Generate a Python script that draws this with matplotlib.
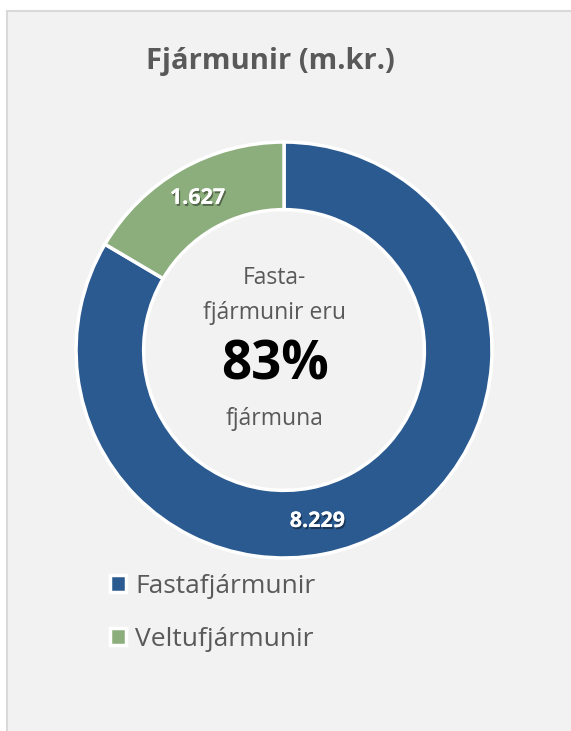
import matplotlib
matplotlib.use('Agg')
import matplotlib.pyplot as plt
import matplotlib.patheffects as pe
from matplotlib.patches import Rectangle, Patch
import numpy as np

# Gögn
flokkar = ['Fastafjármunir', 'Veltufjármunir']
gildi = [8229, 1627]
merki = ['8.229', '1.627']
litir = ['#2b5a91', '#8cad7c']
merki_horn = [-79, None]  # Excel færði merkið fyrir fastafjármuni

titill = 'Fjármunir (m.kr.)'
midja_texti = ['Fasta-', 'fjármunir eru', '83%', 'fjármuna']

plt.rcParams['font.family'] = ['Open Sans', 'DejaVu Sans']

fig = plt.figure(figsize=(5.71, 7.31), dpi=100)
fig.patch.set_facecolor('white')

# grár bakgrunnur með ramma
fig.add_artist(Rectangle((7 / 571, -0.01), 1.0, (731 - 11) / 731 + 0.01,
                         transform=fig.transFigure, facecolor='#f2f2f2',
                         edgecolor='#d9d9d9', linewidth=1.5, zorder=0))

ax = fig.add_axes([0.1331, 0.2367, 0.7286, 0.569])
ax.set_facecolor('none')
wedges, _ = ax.pie(gildi, colors=litir, startangle=90, counterclock=False,
                   radius=1.0, wedgeprops=dict(width=0.325, edgecolor='white', linewidth=2.5))
ax.set_xlim(-1, 1)
ax.set_ylim(-1, 1)
ax.set_aspect('equal')
ax.axis('off')

skuggi = [pe.withSimplePatchShadow(offset=(1, -1.5), shadow_rgbFace='black', alpha=0.4),
          pe.Normal()]
for w, m, h in zip(wedges, merki, merki_horn):
    horn = h if h is not None else (w.theta1 + w.theta2) / 2
    r = 0.84
    ax.text(r * np.cos(np.radians(horn)), r * np.sin(np.radians(horn)), m,
            ha='center', va='center', color='white', fontsize=15.5,
            fontweight='bold', path_effects=skuggi)

# miðjutexti er aðeins vinstra megin við miðju hringsins
mx = -0.045
ax.text(mx, 0.345, midja_texti[0], ha='center', va='center', fontsize=16.5, color='#595959')
ax.text(mx, 0.18, midja_texti[1], ha='center', va='center', fontsize=16.5, color='#595959')
ax.text(mx, -0.075, midja_texti[2], ha='center', va='center', fontsize=38,
        fontweight='bold', color='black')
ax.text(mx, -0.33, midja_texti[3], ha='center', va='center', fontsize=16.5, color='#595959')

fig.text(270 / 571, 1 - 62 / 731, titill, ha='center', va='center', fontsize=21,
         fontweight='bold', color='#595959')

handles = [Patch(facecolor=c, edgecolor='white', linewidth=2.5) for c in litir]
leg = fig.legend(handles, flokkar, loc='upper left', bbox_to_anchor=(110 / 571, 1 - 574 / 731),
                 frameon=False, fontsize=19, labelcolor='#595959', handlelength=0.6,
                 handleheight=0.6, handletextpad=0.35, labelspacing=1.05,
                 borderpad=0, borderaxespad=0)

fig.savefig('out.png', dpi=100)
